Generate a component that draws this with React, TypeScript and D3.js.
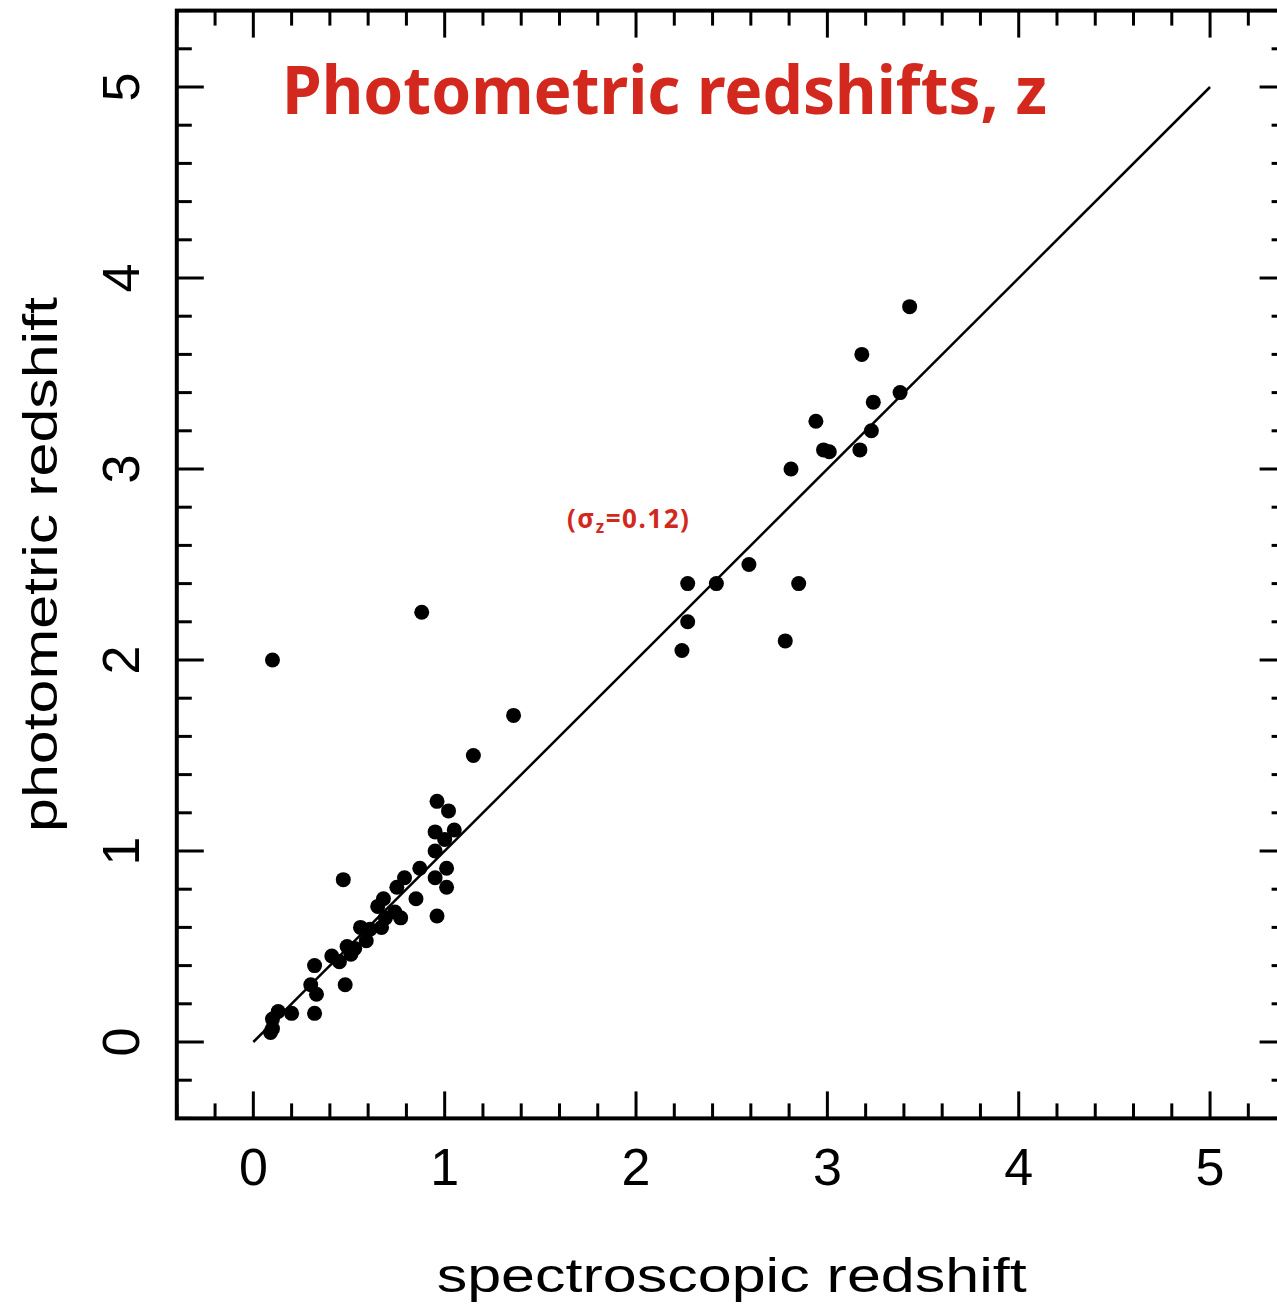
import React from "react";
import * as d3 from "d3";

const specZ: number[] = [
  3.43, 3.18, 3.38, 3.24, 2.94, 3.23, 2.98, 3.01, 3.17, 2.81,
  2.59, 2.27, 2.42, 2.85, 2.27, 2.24, 2.78,
  0.10, 0.88, 1.36, 1.15,
  0.96, 1.02, 0.95, 1.05, 1.00, 0.95, 1.01, 0.95, 1.01, 0.96,
  0.85, 0.47, 0.87, 0.79, 0.75, 0.68, 0.74, 0.77, 0.65, 0.67,
  0.69, 0.56, 0.59, 0.61, 0.49, 0.53, 0.51, 0.41, 0.45, 0.32,
  0.30, 0.33, 0.48, 0.32, 0.20, 0.13, 0.10, 0.10, 0.09,
];
const photZ: number[] = [
  3.85, 3.60, 3.40, 3.35, 3.25, 3.20, 3.10, 3.09, 3.10, 3.00,
  2.50, 2.40, 2.40, 2.40, 2.20, 2.05, 2.10,
  2.00, 2.25, 1.71, 1.50,
  1.26, 1.21, 1.10, 1.11, 1.06, 1.00, 0.91, 0.86, 0.81, 0.66,
  0.75, 0.85, 0.91, 0.86, 0.81, 0.75, 0.68, 0.65, 0.71, 0.60,
  0.65, 0.60, 0.53, 0.59, 0.50, 0.49, 0.46, 0.45, 0.42, 0.40,
  0.30, 0.25, 0.30, 0.15, 0.15, 0.16, 0.12, 0.07, 0.05,
];
const majorTicks: number[] = [0, 1, 2, 3, 4, 5];
const tickLabels: string[] = ["0", "1", "2", "3", "4", "5"];
const domain: [number, number] = [-0.4, 5.4];
const fitLine: [number, number][] = [[0, 0], [5, 5]];

const titleText = "Photometric redshifts, z";
const xLabel = "spectroscopic redshift";
const yLabel = "photometric redshift";

export default function App() {
  const W = 1277, H = 1310;
  const x = d3.scaleLinear().domain(domain).range([176.8, 1286.6]);
  const y = d3.scaleLinear().domain(domain).range([1118.4, 10.6]);
  const minor = d3.range(-2, 28).map((i) => +(i * 0.2).toFixed(2));
  const isMajor = (v: number) => Math.abs(v - Math.round(v)) < 1e-6;
  const [x0, x1] = x.range();
  const [y0, y1] = y.range();
  const line = d3.line<[number, number]>().x((d) => x(d[0])).y((d) => y(d[1]));
  const axisFont = "'Liberation Sans', Arial, sans-serif";
  const red = "#d3281e";

  return (
    <svg
      width={W}
      height={H}
      style={{ position: "absolute", left: 0, top: 0, background: "#fff" }}
    >
      <rect x={0} y={0} width={W} height={H} fill="#fff" />
      {/* ticks */}
      <g stroke="#000" strokeWidth={3}>
        {minor.map((v) => {
          const L = isMajor(v) ? 27 : 15;
          return (
            <g key={"t" + v}>
              <line x1={x(v)} x2={x(v)} y1={y0} y2={y0 - L} />
              <line x1={x(v)} x2={x(v)} y1={y1} y2={y1 + L} />
              <line x1={x0} x2={x0 + L} y1={y(v)} y2={y(v)} />
              <line x1={x1} x2={x1 - L} y1={y(v)} y2={y(v)} />
            </g>
          );
        })}
      </g>
      {/* frame */}
      <rect
        x={x0}
        y={y1}
        width={x1 - x0}
        height={y0 - y1}
        fill="none"
        stroke="#000"
        strokeWidth={4}
      />
      {/* tick labels */}
      <g fontFamily={axisFont} fontSize={52} fill="#000">
        {majorTicks.map((v, i) => (
          <text key={"xl" + v} x={x(v)} y={1185} textAnchor="middle">
            {tickLabels[i]}
          </text>
        ))}
        {majorTicks.map((v, i) => (
          <text
            key={"yl" + v}
            transform={`translate(139,${y(v)}) rotate(-90)`}
            textAnchor="middle"
          >
            {tickLabels[i]}
          </text>
        ))}
      </g>
      {/* axis titles */}
      <text
        x={(x0 + x1) / 2}
        y={1292}
        textAnchor="middle"
        fontFamily={axisFont}
        fontSize={48}
        textLength={590}
        lengthAdjust="spacingAndGlyphs"
      >
        {xLabel}
      </text>
      <text
        transform={`translate(57,${(y0 + y1) / 2}) rotate(-90)`}
        textAnchor="middle"
        fontFamily={axisFont}
        fontSize={48}
        textLength={535}
        lengthAdjust="spacingAndGlyphs"
      >
        {yLabel}
      </text>
      {/* 1:1 line */}
      <path d={line(fitLine) || ""} fill="none" stroke="#000" strokeWidth={2.5} />
      {/* points */}
      <g fill="#000">
        {specZ.map((s, i) => (
          <circle key={"p" + i} cx={x(s)} cy={y(photZ[i])} r={7.5} />
        ))}
      </g>
      {/* title */}
      <text
        x={282}
        y={114}
        fill={red}
        fontFamily="'Comic Sans MS', 'Noto Sans', sans-serif"
        fontWeight="bold"
        fontSize={66}
        textLength={765}
        lengthAdjust="spacingAndGlyphs"
      >
        {titleText}
      </text>
      <text
        x={567}
        y={528}
        fill={red}
        fontFamily="'Noto Sans', sans-serif"
        fontWeight="bold"
        fontSize={26}
        letterSpacing={1.5}
      >
        (σ<tspan fontSize={17} dy={5}>z</tspan>
        <tspan dy={-5}>=0.12)</tspan>
      </text>
    </svg>
  );
}
